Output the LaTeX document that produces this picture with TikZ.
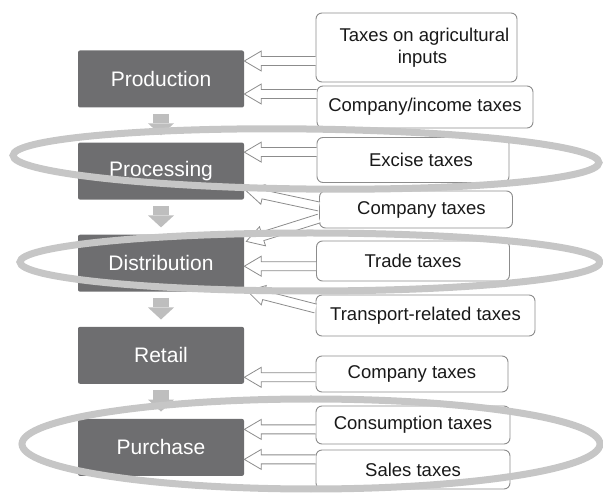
\documentclass[tikz,border=0pt]{standalone}
\usepackage{fontspec}
\setmainfont{Liberation Sans}
\usetikzlibrary{positioning,calc,arrows.meta}
\definecolor{stagegray}{RGB}{110,110,112}
\definecolor{flowgray}{RGB}{190,190,190}
\definecolor{ringgray}{RGB}{198,198,198}
\definecolor{edgegray}{RGB}{140,140,140}

% open block arrow from #1 to #2
\newcommand{\taxarrow}[2]{%
  \coordinate (ta) at (#1);
  \coordinate (tb) at (#2);
  \coordinate (tn) at ($(tb)!17pt!(ta)$);
  \filldraw[hollow] ($(ta)!4.5pt!90:(tb)$) -- ($(tn)!4.5pt!90:(tb)$)
    -- ($(tn)!10pt!90:(tb)$) -- (tb) -- ($(tn)!10pt!-90:(tb)$)
    -- ($(tn)!4.5pt!-90:(tb)$) -- ($(ta)!4.5pt!-90:(tb)$);}

\begin{document}
\begin{tikzpicture}[x=1pt,y=-1pt,node distance=34.5pt,semithick,
                    nudge/.style={execute at begin node={\hspace*{#1}}}]
    \tikzstyle{stage}=[fill=stagegray,draw=none,text=white,rounded corners=2pt,
                       minimum width=166pt,minimum height=57pt,
                       font=\fontsize{21}{24}\selectfont]
    \tikzstyle{tax}=[draw=edgegray,fill=white,line width=0.9pt,rounded corners=6pt,
                     align=center,text=black!90,font=\fontsize{18.5}{22}\selectfont]
    \tikzstyle{flow}=[flowgray,line width=16pt,shorten <=6pt,shorten >=7pt,
                      -{Triangle[width=26pt,length=12pt,line width=0pt]}]
    \tikzstyle{hollow}=[draw=edgegray,fill=white,line width=0.8pt,line join=miter]
    \tikzstyle{ring}=[draw=ringgray,line width=7pt]

    \useasboundingbox (0,0) rectangle (603,494);

    \node[stage] (prod) at (161,79) {Production};
    \node[stage] (proc) [below=of prod] {Processing};
    \node[stage] (dist) [below=of proc] {Distribution};
    \node[stage] (ret)  [below=of dist] {Retail};
    \node[stage] (pur)  [below=of ret]  {Purchase};

    \draw[flow] (prod) -- (proc);
    \draw[flow] (proc) -- (dist);
    \draw[flow] (dist) -- (ret);
    \draw[flow] (ret) -- (pur);

    \node[tax,minimum width=201pt,minimum height=69pt] (agri) at (416.5,47.5)
        {\hspace*{16pt}Taxes on agricultural\\\hspace*{12pt}inputs};
    \node[tax,minimum width=216pt,minimum height=42pt] (income) at (425,107)
        {Company/income taxes};
    \node[tax,nudge=16pt,minimum width=192pt,minimum height=45pt] (excise) at (413,160)
        {Excise taxes};
    \node[tax,nudge=11pt,minimum width=193pt,minimum height=37pt] (comp) at (416,209.5)
        {Company taxes};
    \node[tax,minimum width=193pt,minimum height=40pt] (trade) at (413,261)
        {Trade taxes};
    \node[tax,minimum width=219pt,minimum height=41pt] (trans) at (425.5,315.5)
        {Transport-related taxes};
    \node[tax,minimum width=192pt,minimum height=36pt] (compb) at (412,374)
        {Company taxes};
    \node[tax,minimum width=194pt,minimum height=38pt] (cons) at (413,425)
        {Consumption taxes};
    \node[tax,minimum width=194pt,minimum height=39pt] (sales) at (413,469.5)
        {Sales taxes};

    % arrow ends on the stage boxes
    \coordinate (p1) at ($(prod.east)+(0,-18)$);
    \coordinate (p2) at ($(prod.east)+(0,15)$);
    \coordinate (q1) at ($(proc.east)+(0,-19)$);
    \coordinate (q2) at ($(proc.south east)+(2,-9)$);
    \coordinate (d1) at ($(dist.north east)+(2,7)$);
    \coordinate (d2) at ($(dist.east)+(0,3)$);
    \coordinate (d3) at ($(dist.south east)+(3,-1)$);
    \coordinate (r1) at ($(ret.east)+(0,22)$);
    \coordinate (u1) at ($(pur.east)+(0,-18)$);
    \coordinate (u2) at ($(pur.east)+(0,12)$);

    \taxarrow{agri.west |- p1}{p1}
    \taxarrow{income.west |- p2}{p2}
    \taxarrow{excise.west |- q1}{q1}
    \taxarrow{$(comp.west)+(0,-3)$}{q2}
    \taxarrow{$(comp.west)+(0,9)$}{d1}
    \taxarrow{trade.west |- d2}{d2}
    \taxarrow{$(trans.west)+(0,-7)$}{d3}
    \taxarrow{compb.west |- r1}{r1}
    \taxarrow{cons.west |- u1}{u1}
    \taxarrow{sales.west |- u2}{u2}

    \draw[ring,rotate around={-0.7:(306,159)}] (306,159)
        ellipse [x radius=293pt,y radius=30pt];
    \draw[ring] (310,262) ellipse [x radius=290pt,y radius=29pt];
    \draw[ring] (311,444) ellipse [x radius=289pt,y radius=45pt];

\end{tikzpicture}
\end{document}
